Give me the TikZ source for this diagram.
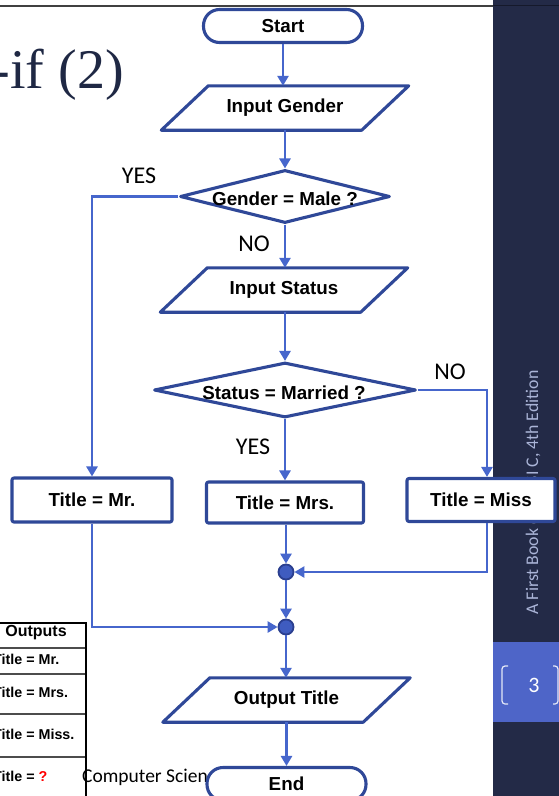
\documentclass[tikz,border=0pt]{standalone}
\usepackage{fontspec}
\setmainfont{Liberation Sans}
\newfontfamily\carl{Carlito}
\newfontfamily\serifx{Liberation Serif}
\usetikzlibrary{arrows.meta,shapes.geometric,calc}
\definecolor{shp}{RGB}{47,72,152}
\definecolor{arr}{RGB}{70,102,204}
\definecolor{navy}{RGB}{35,42,71}
\definecolor{pgblue}{RGB}{78,101,200}
\definecolor{sidetxt}{RGB}{170,180,215}
\definecolor{titlec}{RGB}{31,40,68}
\definecolor{juncfill}{RGB}{63,92,192}
\definecolor{juncdraw}{RGB}{43,63,143}
\begin{document}
\begin{tikzpicture}[x=1pt,y=-1pt,
  shpline/.style={draw=shp, line width=3.1pt, line join=round},
  conn/.style={draw=arr, line width=2.8pt, -{Triangle[length=10pt,width=11pt]}},
  txt/.style={font=\bfseries\fontsize{18.8}{20}\selectfont},
  lbl/.style={font=\carl\fontsize{24}{26}\selectfont, inner sep=0},
  procbox/.style={shpline, fill=white, rounded corners=2pt, minimum height=42pt, inner sep=0, txt},
  term/.style={shpline, fill=white, rounded corners=16pt, minimum width=159pt, minimum height=33pt, inner sep=0, txt},
  io/.style={minimum width=200pt, minimum height=44pt, inner sep=0, txt},
  dec/.style={diamond, shpline, inner sep=0},
  junc/.style={circle, fill=juncfill, draw=juncdraw, line width=1.8pt, minimum size=15pt, inner sep=0},
  tabtxt/.style={font=\bfseries\fontsize{14.3}{16}\selectfont, inner sep=0, anchor=west},
]
\useasboundingbox (0,0) rectangle (559,796);
\fill[white] (0,0) rectangle (559,796);

% right side panel
\fill[navy] (493,0) rectangle (559,796);
\draw[line width=1.5pt, black!75] (0,6) -- (493,6);
\draw[line width=1pt, black!40!navy] (493,5) -- (559,5);
\node[rotate=90, text=sidetxt, font=\carl\fontsize{17.8}{20}\selectfont, inner sep=0] (side) at (533,492.5) {A First Book of ANSI C, 4th Edition};
\fill[pgblue] (493,642) rectangle (559,722);
\node[text=white, font=\carl\fontsize{22}{24}\selectfont, inner sep=0] (pg) at (534,685) {3};
\draw[white!85!pgblue, line width=1.2pt, rounded corners=3pt] (508,666) -- (502,666) -- (502,704) -- (508,704);
\draw[white!85!pgblue, line width=1.2pt, rounded corners=3pt] (553,666) -- (558,666) -- (558,704) -- (553,704);

% slide title fragment
\node[anchor=base east, text=titlec, font=\serifx\fontsize{56}{60}\selectfont, inner sep=0] (ttl) at (124,88) {-if (2)};

% footer text
\node[anchor=base west, font=\carl\fontsize{19.5}{22}\selectfont, inner sep=0] (foot) at (82,782) {Computer Science};

% outputs table
\node[font=\bfseries\fontsize{16}{18}\selectfont, inner sep=0] (thead) at (36,633) {Outputs};
\node[tabtxt] (t1) at (-7,659) {Title = Mr.};
\node[tabtxt] (t2) at (-7,692) {Title = Mrs.};
\node[tabtxt] (t3) at (-7,734) {Title = Miss.};
\node[tabtxt] (t4) at (-7,776) {Title = \textcolor{red}{?}};
\draw[black!70, line width=1.2pt] (-5,648) -- (86,648);
\draw[black!70, line width=1.2pt] (-5,674) -- (86,674);
\draw[black!70, line width=1.2pt] (-5,714) -- (86,714);
\draw[black!70, line width=1.2pt] (-5,757) -- (86,757);
\draw[black, line width=2.2pt] (-5,623) -- (86,623) -- (86,800);

% flowchart nodes
\node[term] (start) at (283,26) {Start};
\node[io] (ig) at (285,108) {Input Gender};
\draw[shpline] ([xshift=23.5pt]ig.north west) -- ([xshift=23.5pt]ig.north east) -- ([xshift=-23.5pt]ig.south east) -- ([xshift=-23.5pt]ig.south west) -- cycle;

\node[dec, minimum width=210pt, minimum height=53pt] (d1) at (285,196.5) {};
\node[txt, inner sep=0] (d1t) at (285,198.5) {Gender = Male ?};
\node[lbl] (yes1) at (139,176) {YES};
\node[lbl] (no1) at (254,244) {NO};

\node[io] (is) at (284,290) {Input Status};
\draw[shpline] ([xshift=23.5pt]is.north west) -- ([xshift=23.5pt]is.north east) -- ([xshift=-23.5pt]is.south east) -- ([xshift=-23.5pt]is.south west) -- cycle;

\node[dec, minimum width=262pt, minimum height=55pt] (d2) at (285,390) {};
\node[txt, inner sep=0] (d2t) at (284,393) {Status = Married ?};
\node[lbl] (no2) at (450,372) {NO};
\node[lbl] (yes2) at (253,447) {YES};

\node[procbox, minimum width=160pt, minimum height=44pt] (mr) at (92,500) {Title = Mr.};
\node[procbox, minimum width=157pt, minimum height=41pt] (mrs) at (285,502.5) {Title = Mrs.};
\node[procbox, minimum width=148pt, minimum height=43pt] (miss) at (481,500) {Title = Miss};

\node[junc] (j1) at (286,572) {};
\node[junc] (j2) at (286,627) {};

\node[io] (ot) at (286.5,700) {Output Title};
\draw[shpline] ([xshift=23.5pt]ot.north west) -- ([xshift=23.5pt]ot.north east) -- ([xshift=-23.5pt]ot.south east) -- ([xshift=-23.5pt]ot.south west) -- cycle;

\node[term] (end) at (286.5,784) {End};

% connectors
\coordinate (c2) at (487,390);
\draw[conn] (start.south) -- (start.south |- ig.north);
\draw[conn] (ig.south) -- (d1.north);
\draw[conn] (d1.west) -| (mr.north);
\draw[conn] (d1.south) -- (d1.south |- is.north);
\draw[conn] (is.south -| d2.north) -- (d2.north);
\draw[conn] (d2.east) -- (c2) -- (c2 |- miss.north);
\draw[conn] (d2.south) -- (mrs.north);
\draw[conn] (mrs.south -| j1.north) -- (j1.north);
\draw[conn] (c2 |- miss.south) -- (c2 |- j1) -- (j1.east);
\draw[conn] (j1.south) -- (j2.north);
\draw[conn] (mr.south) -- (mr.south |- j2) -- (j2.west);
\draw[conn] (j2.south) -- (j2.south |- ot.north);
\draw[conn] (ot.south) -- (ot.south |- end.north);
\end{tikzpicture}
\end{document}
